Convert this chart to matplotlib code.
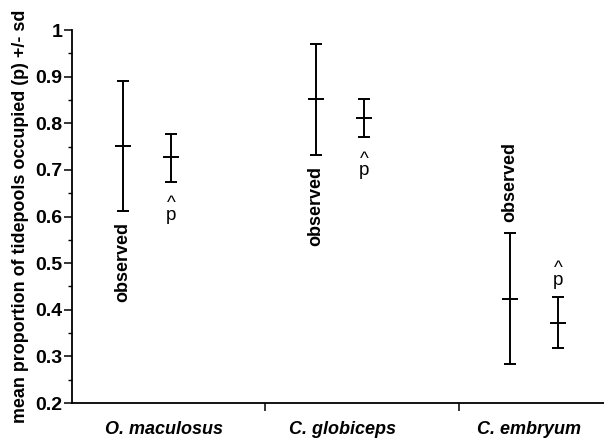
import matplotlib.pyplot as plt
import numpy as np

plt.rcParams['font.family'] = ['Liberation Sans', 'DejaVu Sans']

# data
species = ['O. maculosus', 'C. globiceps', 'C. embryum']
obs_mean = [0.752, 0.851, 0.423]
obs_lo = [0.612, 0.732, 0.283]
obs_hi = [0.891, 0.971, 0.564]
phat_mean = [0.727, 0.811, 0.372]
phat_lo = [0.675, 0.771, 0.317]
phat_hi = [0.778, 0.852, 0.427]

obs_mean = np.array(obs_mean)
phat_mean = np.array(phat_mean)
obs_err = [obs_mean - np.array(obs_lo), np.array(obs_hi) - obs_mean]
phat_err = [phat_mean - np.array(phat_lo), np.array(phat_hi) - phat_mean]

groups = np.arange(len(species))
x_obs = groups + 0.262
x_phat = groups + 0.512

fig = plt.figure(figsize=(6.04, 4.48), dpi=100)
ax = fig.add_axes([0.119, 0.1004, 0.881, 0.8326])

for xs, m, err in [(x_obs, obs_mean, obs_err), (x_phat, phat_mean, phat_err)]:
    ax.errorbar(xs, m, yerr=err, fmt='none', ecolor='black', elinewidth=1.4,
                capsize=4, capthick=1.4)
    ax.plot(xs, m, linestyle='none', marker='_', markersize=12,
            markeredgewidth=1.4, color='black')

# "observed" labels: below bar for first two, above for the last
phat_txt = '^\np'
for i in range(len(species)):
    if i < 2:
        ax.annotate('observed', (x_obs[i], obs_lo[i]), xytext=(0, -8),
                    textcoords='offset points', rotation=90, ha='center',
                    va='top', fontsize=13, fontweight='bold')
        ax.annotate(phat_txt, (x_phat[i], phat_lo[i]), xytext=(0, -10),
                    textcoords='offset points', ha='center', va='top',
                    multialignment='center', linespacing=0.6, fontsize=13.5)
    else:
        ax.annotate('observed', (x_obs[i], obs_hi[i]), xytext=(0, 8),
                    textcoords='offset points', rotation=90, ha='center',
                    va='bottom', fontsize=13, fontweight='bold')
        ax.annotate(phat_txt, (x_phat[i], phat_hi[i]), xytext=(0, 6),
                    textcoords='offset points', ha='center', va='bottom',
                    multialignment='center', linespacing=0.6, fontsize=13.5)

ax.set_xlim(0, 2.75)
ax.set_ylim(0.2, 1.0)
ax.spines['top'].set_visible(False)
ax.spines['right'].set_visible(False)
ax.spines['left'].set_linewidth(1.3)
ax.spines['bottom'].set_linewidth(1.3)

ax.set_yticks(np.arange(0.2, 1.01, 0.1))
ax.set_yticklabels(['0.2', '0.3', '0.4', '0.5', '0.6', '0.7', '0.8', '0.9', '1'])
ax.set_yticks(np.arange(0.25, 1.0, 0.1), minor=True)
ax.tick_params(axis='y', which='major', length=6, width=1.1, labelsize=14, pad=1)
ax.tick_params(axis='y', which='minor', length=3, width=1.0)
for lab in ax.get_yticklabels():
    lab.set_fontweight('bold')

ax.set_xticks([0.475, 1.40, 2.36])
ax.set_xticklabels(species, fontsize=13, fontweight='bold', style='italic')
ax.set_xticks([1, 2], minor=True)
ax.tick_params(axis='x', which='major', length=0, pad=13)
ax.tick_params(axis='x', which='minor', length=6, width=1.1)

ax.set_ylabel('mean proportion of tidepools occupied (p) +/- sd', fontsize=12.9,
              fontweight='bold', labelpad=4)

fig.savefig('out.png', dpi=100)
